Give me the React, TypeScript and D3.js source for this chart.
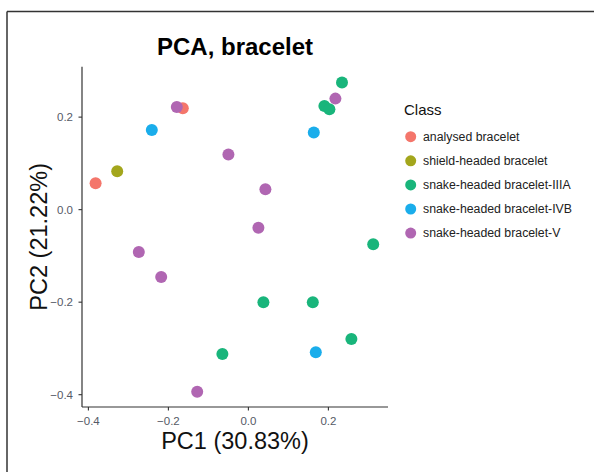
import React from "react";
import * as d3 from "d3";

const classes = [
  "analysed bracelet",
  "shield-headed bracelet",
  "snake-headed bracelet-IIIA",
  "snake-headed bracelet-IVB",
  "snake-headed bracelet-V",
];
const colors = ["#F4766B", "#A3A61C", "#19B57B", "#1AADEB", "#B066B2"];

const pc1 = [-0.382, -0.164, -0.328, -0.2415, 0.1635, 0.1685, -0.179, -0.05, 0.0425, 0.025, -0.274, -0.218, -0.128, 0.2175, 0.234, 0.19, 0.2025, 0.312, 0.0375, 0.161, 0.2575, -0.065];
const pc2 = [0.057, 0.219, 0.083, 0.172, 0.167, -0.308, 0.222, 0.119, 0.044, -0.039, -0.0915, -0.1455, -0.3935, 0.24, 0.2746, 0.224, 0.217, -0.075, -0.2, -0.2, -0.2796, -0.312];
const cls = [0, 0, 1, 3, 3, 3, 4, 4, 4, 4, 4, 4, 4, 4, 2, 2, 2, 2, 2, 2, 2, 2];

const xTicks = [-0.4, -0.2, 0.0, 0.2];
const yTicks = [-0.4, -0.2, 0.0, 0.2];

const FONT = "'Liberation Sans', Arial, sans-serif";

export default function App() {
  const left = 82, right = 388, top = 66.7, bottom = 407;
  const x = d3.scaleLinear().domain([-0.416, 0.349]).range([left, right]);
  const y = d3.scaleLinear().domain([-0.4266, 0.309]).range([bottom, top]);
  const order = d3.range(pc1.length);
  return (
    <div style={{ position: "absolute", left: 0, top: 0 }}>
      <svg width={594} height={472} style={{ display: "block", fontFamily: FONT }}>
        <rect x={0} y={0} width={594} height={472} fill="#fff" />
        <line x1={7} x2={594} y1={11.5} y2={11.5} stroke="#333" strokeWidth={1.5} />
        <line x1={7} x2={7} y1={11.5} y2={472} stroke="#333" strokeWidth={1.5} />

        <text x={(left + right) / 2} y={55} textAnchor="middle" fontWeight="bold" fontSize={24} fill="#000">
          PCA, bracelet
        </text>

        {order.map((i) => (
          <circle key={i} cx={x(pc1[i])} cy={y(pc2[i])} r={6} fill={colors[cls[i]]} />
        ))}

        <line x1={left} x2={left} y1={top} y2={bottom} stroke="#333" strokeWidth={1.2} />
        <line x1={left} x2={right} y1={bottom} y2={bottom} stroke="#333" strokeWidth={1.2} />

        {xTicks.map((t) => (
          <g key={"x" + t}>
            <line x1={x(t)} x2={x(t)} y1={bottom} y2={bottom + 3.5} stroke="#333" strokeWidth={1.1} />
            <text x={x(t)} y={425} textAnchor="middle" fontSize={11.5} fill="#555a66">
              {d3.format(".1f")(t)}
            </text>
          </g>
        ))}
        {yTicks.map((t) => (
          <g key={"y" + t}>
            <line x1={left - 3.5} x2={left} y1={y(t)} y2={y(t)} stroke="#333" strokeWidth={1.1} />
            <text x={73} y={y(t) + 4} textAnchor="end" fontSize={11.5} fill="#555a66">
              {d3.format(".1f")(t)}
            </text>
          </g>
        ))}

        <text x={(left + right) / 2} y={449} textAnchor="middle" fontSize={23.5} fill="#111">
          PC1 (30.83%)
        </text>
        <text
          transform={`translate(47, ${(top + bottom) / 2}) rotate(-90)`}
          textAnchor="middle"
          fontSize={23.5}
          fill="#111"
        >
          PC2 (21.22%)
        </text>

        <text x={404} y={115} fontSize={15} fill="#111">Class</text>
        {classes.map((c, i) => (
          <g key={c}>
            <circle cx={410.7} cy={136.7 + i * 24.1} r={5.5} fill={colors[i]} />
            <text x={423} y={136.7 + i * 24.1 + 4.3} fontSize={12.3} fill="#222">
              {c}
            </text>
          </g>
        ))}
      </svg>
    </div>
  );
}
